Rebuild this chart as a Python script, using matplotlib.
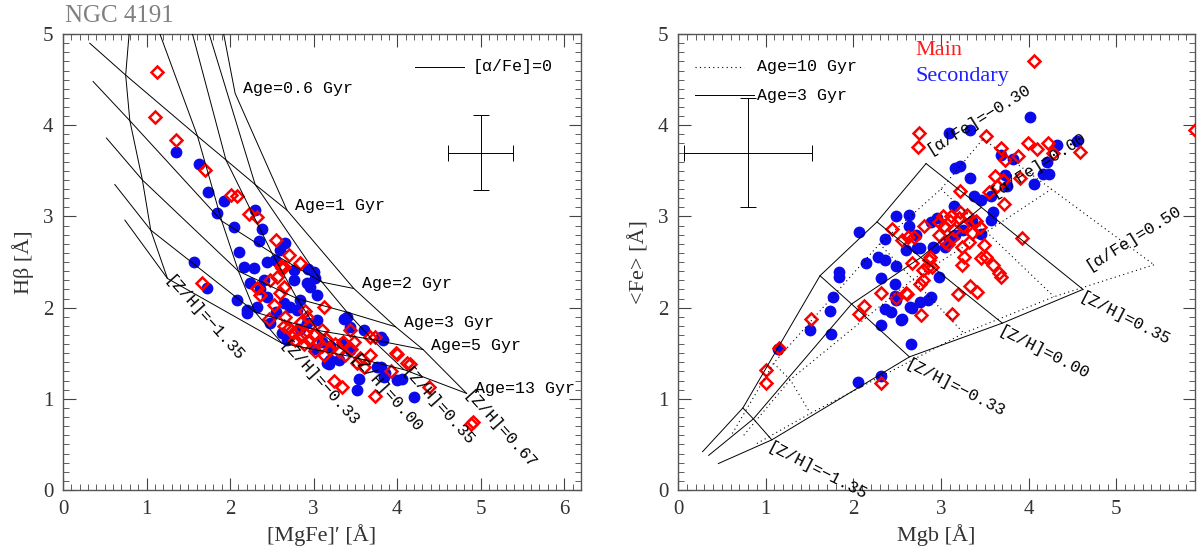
import numpy as np
import matplotlib
matplotlib.use('Agg')
import matplotlib.pyplot as plt
from matplotlib.ticker import MultipleLocator

plt.rcParams['font.family'] = ['Liberation Serif', 'DejaVu Serif']
MONO = ['Liberation Mono', 'DejaVu Sans Mono']

# ---- left panel: [MgFe]' vs Hbeta ----
main_mgfe = [1.13, 1.10, 1.35, 1.70, 2.01, 2.08, 2.23, 2.32, 2.55, 2.71, 2.84, 2.61, 1.66,
             2.64, 2.56, 2.64, 2.60, 2.48, 2.32, 2.36, 2.52, 2.46, 2.66, 3.12, 2.90, 2.92,
             3.44, 3.68, 3.98, 4.12, 3.24, 3.34, 3.92, 3.68, 3.52, 3.60, 4.38, 4.88, 4.91,
             3.74, 3.74, 4.00, 4.15, 2.62,
             2.70, 2.75, 2.80, 2.85, 2.90, 2.95, 3.00, 3.05, 2.88, 2.78, 3.10, 3.15, 3.20,
             3.25, 3.30, 3.38, 3.45, 2.65, 2.95, 3.02, 3.12, 3.35, 3.48, 3.55, 2.85, 3.10]
main_hbeta = [4.58, 4.09, 3.84, 3.51, 3.23, 3.22, 3.03, 2.99, 2.74, 2.58, 2.49, 2.46, 2.27,
              2.45, 2.34, 2.23, 2.16, 2.30, 2.21, 2.14, 2.03, 1.88, 1.90, 2.01, 1.96, 1.90,
              1.75, 1.68, 1.50, 1.39, 1.19, 1.13, 1.30, 1.48, 1.39, 1.35, 1.13, 0.72, 0.75,
              1.03, 1.68, 1.49, 1.38, 2.43,
              1.78, 1.72, 1.75, 1.68, 1.72, 1.65, 1.70, 1.62, 1.60, 1.65, 1.58, 1.66, 1.55,
              1.60, 1.52, 1.48, 1.55, 1.80, 1.80, 1.52, 1.48, 1.62, 1.62, 1.45, 1.84, 1.75]

sec_mgfe = [1.35, 1.63, 1.73, 1.93, 1.84, 2.30, 2.38, 2.05, 2.34, 2.66, 2.11, 1.57, 2.44,
            2.54, 2.17, 2.28, 2.93, 1.72, 2.24, 2.40, 2.44, 2.08, 2.20, 2.32, 2.20, 2.76,
            2.92, 3.00, 3.04, 2.96, 2.76, 2.64, 2.72, 2.80, 2.48, 2.92, 2.84, 3.36, 3.44,
            3.60, 3.80, 3.16, 3.54, 3.52, 3.80, 3.84, 4.20, 4.06, 3.85, 3.18, 3.83, 2.60,
            3.02, 2.84, 3.40, 3.20, 3.30, 3.76, 3.44, 3.34, 3.04, 2.68, 3.10, 3.20, 3.00,
            4.00, 2.36, 2.55, 2.62]
sec_hbeta = [3.71, 3.58, 3.27, 3.17, 3.04, 3.07, 2.86, 2.88, 2.73, 2.71, 2.61, 2.50, 2.50,
             2.52, 2.45, 2.44, 2.42, 2.22, 2.27, 2.30, 2.12, 2.08, 1.97, 2.01, 1.94, 2.30,
             2.27, 2.39, 2.14, 2.23, 2.41, 2.05, 2.01, 1.97, 1.83, 1.83, 1.77, 1.88, 1.79,
             1.75, 1.68, 1.39, 1.22, 1.10, 1.35, 1.24, 1.02, 1.22, 1.28, 1.38, 1.64, 2.63,
             2.32, 2.08, 1.90, 1.43, 1.43, 1.35, 1.54, 1.61, 1.86, 1.64, 1.62, 1.58, 1.55,
             1.21, 2.20, 1.95, 1.72]

# model grid (left): rows = ages, columns = [Z/H]
left_ages = [0.4, 0.6, 1, 2, 3, 5, 13]
left_zh = [-2.25, -1.35, -0.33, 0.00, 0.35, 0.67]
left_mgfe = np.array([
    [0.90, 0.95, 1.10, 1.50, 1.70, 1.86],
    [0.86, 0.80, 1.16, 1.55, 1.75, 2.06],
    [0.32, 0.75, 1.61, 1.95, 2.30, 2.68],
    [0.36, 0.80, 1.90, 2.50, 3.10, 3.48],
    [0.52, 0.95, 2.10, 2.80, 3.40, 3.98],
    [0.62, 1.05, 2.30, 3.05, 3.70, 4.31],
    [0.74, 1.25, 2.62, 3.46, 4.08, 4.83]])
left_hbeta = np.array([
    [5.50, 5.80, 5.60, 5.50, 5.40, 5.30],
    [5.00, 5.10, 5.00, 5.00, 5.00, 4.35],
    [4.90, 4.55, 3.88, 3.62, 3.35, 3.07],
    [4.48, 4.05, 2.95, 2.60, 2.28, 2.21],
    [3.86, 3.40, 2.40, 2.10, 1.95, 1.79],
    [3.35, 2.85, 1.95, 1.75, 1.65, 1.54],
    [2.96, 2.32, 1.61, 1.46, 1.32, 1.06]])

# ---- right panel: Mgb vs <Fe> ----
main_mgb = [4.06, 2.75, 2.74, 3.51, 5.90, 3.99, 4.10, 4.22, 4.28, 4.59, 3.68, 3.73, 3.88,
            3.90, 3.62, 3.71, 3.22, 3.55, 3.64, 3.72, 2.98, 3.04, 3.11, 2.81, 2.44, 2.56,
            2.69, 3.92, 3.24, 3.26, 3.49, 3.51, 3.59, 3.66, 3.46, 3.24, 2.67, 2.80, 2.87,
            2.90, 2.76, 2.80, 2.32, 2.12, 2.06, 2.49, 2.61, 1.52, 1.15, 1.00, 1.00, 2.32,
            2.77, 3.12, 3.19, 3.33, 3.41, 3.68, 2.62, 2.60, 2.85, 2.86,
            2.98, 3.05, 3.10, 3.15, 3.20, 3.25, 3.30, 3.35, 3.40, 3.02, 3.12, 3.22, 3.32,
            3.45, 3.08]
main_fe = [4.71, 3.91, 3.76, 3.88, 3.95, 3.80, 3.74, 3.81, 3.70, 3.71, 3.75, 3.62, 3.66,
           3.42, 3.44, 3.40, 3.28, 3.27, 3.33, 3.14, 2.94, 2.89, 3.00, 2.89, 2.86, 2.74,
           2.77, 2.76, 2.67, 2.56, 2.69, 2.56, 2.47, 2.38, 2.54, 2.47, 2.49, 2.41, 2.56,
           2.45, 2.26, 2.30, 2.16, 2.02, 1.93, 2.11, 2.15, 1.88, 1.56, 1.32, 1.17, 1.17,
           1.92, 1.93, 2.15, 2.24, 2.17, 2.34, 2.78, 2.16, 2.45, 2.52,
           2.80, 2.72, 2.95, 2.85, 2.98, 2.90, 3.02, 2.82, 2.95, 3.00, 2.76, 3.05, 2.72,
           2.88, 2.70]

sec_mgb = [4.01, 3.09, 3.33, 4.32, 4.55, 3.68, 3.82, 3.16, 3.22, 3.33, 4.21, 4.23, 4.16,
           4.06, 3.73, 3.75, 3.57, 3.46, 3.38, 2.49, 2.63, 2.63, 2.72, 2.06, 2.36, 2.14,
           2.28, 2.36, 2.49, 2.76, 2.91, 2.89, 2.96, 3.57, 3.59, 1.84, 3.09, 3.16, 1.84,
           2.32, 2.47, 2.98, 1.77, 1.73, 1.74, 1.51, 1.14, 2.05, 2.32, 2.32, 2.66, 2.56,
           2.36, 2.43, 2.49, 2.47, 2.67, 2.76, 2.85, 2.89, 3.15, 3.46, 3.05, 2.92, 2.73,
           2.60, 2.65, 2.54, 3.25, 3.35]
sec_fe = [4.09, 3.92, 3.95, 3.78, 3.83, 3.67, 3.63, 3.53, 3.55, 3.42, 3.60, 3.47, 3.47,
          3.36, 3.45, 3.33, 3.22, 3.18, 3.22, 3.01, 3.02, 2.89, 2.80, 2.83, 2.75, 2.49,
          2.56, 2.52, 2.46, 2.65, 2.67, 2.94, 2.98, 2.96, 3.05, 2.39, 2.74, 2.80, 2.34,
          2.32, 2.26, 2.34, 2.12, 1.96, 1.71, 1.76, 1.55, 1.18, 1.25, 1.81, 1.60, 1.87,
          1.99, 1.95, 2.08, 2.13, 2.00, 2.06, 2.08, 2.12, 3.11, 2.81, 2.67, 2.65, 2.65,
          2.63, 2.01, 1.86, 2.85, 2.95]

# model grids (right): rows = [alpha/Fe], columns = [Z/H]
right_afe = [-0.30, 0.00, 0.50]
right_zh = [-2.25, -1.35, -0.33, 0.00, 0.35]
mgb_3gyr = np.array([[0.28, 0.74, 1.62, 2.27, 2.83],
                     [0.35, 0.86, 1.98, 2.77, 3.46],
                     [0.46, 1.07, 2.64, 3.70, 4.62]])
fe_3gyr = np.array([[0.42, 0.90, 2.35, 2.94, 3.58],
                    [0.38, 0.78, 2.04, 2.55, 3.10],
                    [0.29, 0.55, 1.46, 1.83, 2.20]])
mgb_10gyr = np.array([[0.62, 1.09, 2.30, 3.00, 3.48],
                      [0.75, 1.28, 2.68, 3.52, 4.26],
                      [0.90, 1.51, 3.26, 4.29, 5.43]])
fe_10gyr = np.array([[0.62, 1.39, 2.70, 3.30, 3.85],
                     [0.60, 1.21, 2.31, 2.83, 3.30],
                     [0.51, 0.84, 1.72, 2.12, 2.47]])


def zh_str(z):
    return '[Z/H]=' + ('%.2f' % z).replace('-', '\u2212')


def afe_str(a):
    return '[\u03b1/Fe]=' + ('%.2f' % a).replace('-', '\u2212')


def style_axis(ax, xmax):
    ax.set_xlim(0, xmax)
    ax.set_ylim(0, 5)
    ax.xaxis.set_major_locator(MultipleLocator(1))
    ax.xaxis.set_minor_locator(MultipleLocator(0.1))
    ax.yaxis.set_major_locator(MultipleLocator(1))
    ax.yaxis.set_minor_locator(MultipleLocator(0.1))
    ax.tick_params(which='both', direction='in', top=True, right=True, colors='#444444')
    ax.tick_params(which='major', length=9, width=0.8, labelsize=15, pad=7, labelcolor='#333333')
    ax.tick_params(which='minor', length=4, width=0.6)
    for s in ax.spines.values():
        s.set_color('#555555')
        s.set_linewidth(1.0)


fig = plt.figure(figsize=(12, 5.54), dpi=100)
ax1 = fig.add_axes([0.0525, 0.1155, 0.4317, 0.823])
ax2 = fig.add_axes([0.565, 0.1155, 0.431, 0.823])

# ---------------- left panel ----------------
# age lines only from 1 Gyr on, the young nodes just bend the [Z/H] tracks
for i in range(len(left_ages)):
    if left_ages[i] < 1:
        continue
    ax1.plot(left_mgfe[i], left_hbeta[i], color='k', lw=0.7, zorder=4)
# lowest metallicity track is not joined up
for j in range(1, len(left_zh)):
    ax1.plot(left_mgfe[:, j], left_hbeta[:, j], color='k', lw=0.7, zorder=4)

ax1.plot(sec_mgfe, sec_hbeta, 'o', color='#0a0aeb', ms=8.5, mec='none', zorder=2)
ax1.plot(main_mgfe, main_hbeta, 'D', mfc='none', mec='#ff0000', ms=6, mew=1.8, zorder=3)

for i, age in enumerate(left_ages):
    if age < 0.5:
        continue
    ax1.text(left_mgfe[i, -1] + 0.1, left_hbeta[i, -1] + 0.05, 'Age=%g Gyr' % age,
             family=MONO, fontsize=12, va='center', ha='left', zorder=5)
for j, z in enumerate(left_zh):
    if z < -2:
        continue
    ax1.text(left_mgfe[-1, j], left_hbeta[-1, j], zh_str(z), family=MONO, fontsize=12,
             rotation=-48, rotation_mode='anchor', ha='left', va='center', zorder=5)

ax1.plot([4.21, 4.80], [4.64, 4.64], color='k', lw=0.7)
ax1.text(4.90, 4.64, '[\u03b1/Fe]=0', family=MONO, fontsize=12, va='center')
ax1.errorbar([5.0], [3.70], xerr=[0.39], yerr=[0.41], color='k', lw=0.7, capsize=6, capthick=0.7)

style_axis(ax1, 6.2)
ax1.set_xlabel('[MgFe]\u2032 [\u00c5]', fontsize=16, color='#333333', labelpad=4)
ax1.set_ylabel('H\u03b2 [\u00c5]', fontsize=16, color='#333333', labelpad=6)

# ---------------- right panel ----------------
for i in range(len(right_afe)):
    ax2.plot(mgb_3gyr[i], fe_3gyr[i], color='k', lw=0.7, zorder=4)
    ax2.plot(mgb_10gyr[i], fe_10gyr[i], color='k', lw=0.8, ls=(0, (1, 3)), zorder=4)
for j in range(1, len(right_zh)):
    ax2.plot(mgb_3gyr[:, j], fe_3gyr[:, j], color='k', lw=0.7, zorder=4)
    ax2.plot(mgb_10gyr[:, j], fe_10gyr[:, j], color='k', lw=0.8, ls=(0, (1, 3)), zorder=4)

ax2.plot(sec_mgb, sec_fe, 'o', color='#0a0aeb', ms=8.5, mec='none', zorder=2)
ax2.plot(main_mgb, main_fe, 'D', mfc='none', mec='#ff0000', ms=6, mew=1.8, zorder=3)

for j, z in enumerate(right_zh):
    if z < -2:
        continue
    ax2.text(mgb_3gyr[-1, j], fe_3gyr[-1, j], zh_str(z), family=MONO, fontsize=12,
             rotation=-27, rotation_mode='anchor', ha='left', va='top', zorder=5, clip_on=False)
afe_off = [(0.06, 0.07), (0.16, 0.08), (0.09, 0.18)]
for i, a in enumerate(right_afe):
    ax2.text(mgb_3gyr[i, -1] + afe_off[i][0], fe_3gyr[i, -1] + afe_off[i][1], afe_str(a),
             family=MONO, fontsize=12, rotation=32, rotation_mode='anchor',
             ha='left', va='bottom', zorder=5)

ax2.plot([0.19, 0.755], [4.64, 4.64], color='k', lw=0.8, ls=(0, (1, 3)))
ax2.text(0.90, 4.64, 'Age=10 Gyr', family=MONO, fontsize=12, va='center')
ax2.plot([0.19, 0.87], [4.33, 4.33], color='k', lw=0.7)
ax2.text(0.90, 4.33, 'Age=3 Gyr', family=MONO, fontsize=12, va='center')
ax2.text(2.71, 4.82, 'Main', color='#ff1a1a', fontsize=16, va='center')
ax2.text(2.71, 4.53, 'Secondary', color='#2020ff', fontsize=16, va='center')
ax2.errorbar([0.80], [3.70], xerr=[0.73], yerr=[0.60], color='k', lw=0.7, capsize=6, capthick=0.7)

style_axis(ax2, 5.9)
ax2.set_xlabel('Mgb [\u00c5]', fontsize=16, color='#333333', labelpad=4)
ax2.set_ylabel('<Fe> [\u00c5]', fontsize=16, color='#333333', labelpad=6)

fig.text(0.054, 0.972, 'NGC 4191', fontsize=18, color='#808080', va='center', ha='left')

fig.savefig('out.png', dpi=100)
